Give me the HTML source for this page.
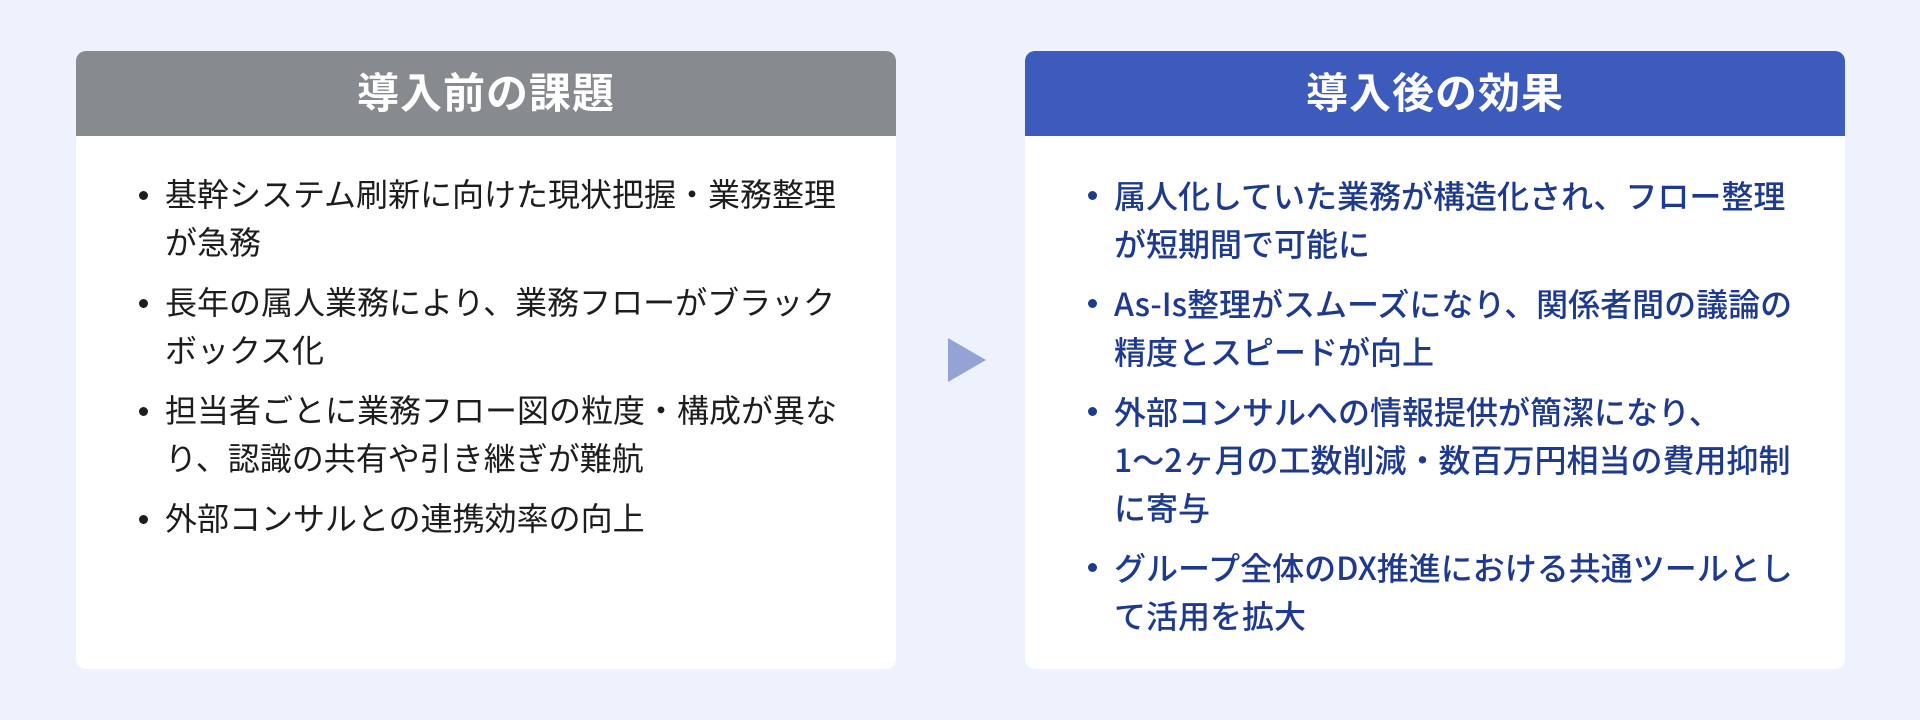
<!DOCTYPE html>
<html><head><meta charset="utf-8"><style>
body{margin:0;width:1920px;height:720px;background:#eef2fc;position:relative;overflow:hidden;font-family:"Liberation Sans","Noto Sans CJK JP",sans-serif;}
.card{position:absolute;top:51px;width:820px;height:618px;background:#fff;border-radius:10px;overflow:hidden;}
.hd{height:85px;color:#fff;font-size:42px;font-weight:bold;text-align:center;line-height:85px;letter-spacing:1px;}
ul{list-style:none;margin:0;padding:0;position:absolute;top:120px;}
li{position:relative;font-size:32px;line-height:48px;margin-bottom:12px;white-space:nowrap;}
li:before{content:"";position:absolute;left:-26px;top:20px;width:9px;height:9px;border-radius:50%;background:currentColor;}
.l li{color:#1d1d1f;}
.r li{color:#1e3a8e;font-weight:500;font-family:"Noto Sans CJK JP","Liberation Sans",sans-serif;}
</style></head><body>
<div class="card" style="left:76px">
<div class="hd" style="background:#878a8f">導入前の課題</div>
<ul class="l" style="left:89px">
<li>基幹システム刷新に向けた現状把握・業務整理<br>が急務</li>
<li>長年の属人業務により、業務フローがブラック<br>ボックス化</li>
<li>担当者ごとに業務フロー図の粒度・構成が異な<br>り、認識の共有や引き継ぎが難航</li>
<li>外部コンサルとの連携効率の向上</li>
</ul>
</div>
<svg style="position:absolute;left:948px;top:338px" width="40" height="44"><polygon points="0,0 38,22 0,44" fill="#93a3d6"/></svg>
<div class="card" style="left:1025px">
<div class="hd" style="background:#3d5abd">導入後の効果</div>
<ul class="r" style="left:89px">
<li>属人化していた業務が構造化され、フロー整理<br>が短期間で可能に</li>
<li>As-Is整理がスムーズになり、関係者間の議論の<br>精度とスピードが向上</li>
<li>外部コンサルへの情報提供が簡潔になり、<br>1〜2ヶ月の工数削減・数百万円相当の費用抑制<br>に寄与</li>
<li>グループ全体のDX推進における共通ツールとし<br>て活用を拡大</li>
</ul>
</div>
</body></html>
